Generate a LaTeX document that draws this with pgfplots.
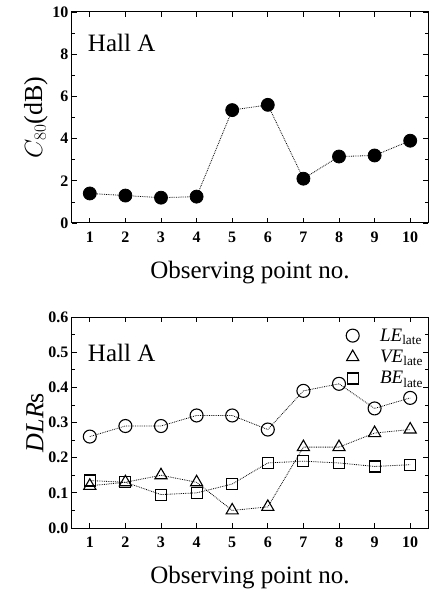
\documentclass[border=0pt]{standalone}
\usepackage{pgfplots}
\pgfplotsset{compat=1.18}
\usepackage{fontspec}
\setmainfont{Liberation Serif}
\begin{document}
\begin{tikzpicture}[x=1pt,y=1pt]
\pgfplotsset{
  every axis/.append style={
    scale only axis, width=356pt, height=211pt,
    xmin=0.5, xmax=10.5, xtick={1,...,10},
    axis line style={line width=1pt},
    major tick length=5pt, minor tick length=3pt,
    every tick/.style={black, line width=0.7pt},
    tick label style={font=\fontsize{16}{18}\selectfont\bfseries},
    /pgf/number format/assume math mode=true,
    xticklabel style={yshift=-5pt},
    xlabel={\fontsize{25}{30}\selectfont Observing point no.},
    xlabel style={yshift=-12pt},
    ylabel style={yshift=-2pt},
    clip=false,
  },
}
\begin{axis}[at={(72pt,372pt)}, anchor=south west,
  ymin=0, ymax=10, ytick={0,2,...,10}, minor y tick num=1,
  ylabel={\fontsize{26}{30}\selectfont $C_{80}$(dB)},
]
\addplot[black, densely dotted, line width=0.8pt, mark=*, mark size=6.5pt, mark options={solid, fill=black}]
 coordinates {(1,1.4) (2,1.3) (3,1.2) (4,1.25) (5,5.35) (6,5.6) (7,2.1) (8,3.15) (9,3.2) (10,3.9)};
\node[anchor=west, font=\fontsize{25}{30}\selectfont] at (rel axis cs:0.035,0.853) {Hall A};
\end{axis}
\begin{axis}[at={(72pt,67pt)}, anchor=south west,
  ymin=0, ymax=0.6, ytick={0,0.1,...,0.6}, minor y tick num=1,
  yticklabel style={/pgf/number format/.cd, fixed, fixed zerofill, precision=1},
  ylabel={\fontsize{26}{30}\selectfont \textit{DLR}s},
  legend style={at={(rel axis cs:0.995,0.96)}, anchor=north east, draw=none, fill=none,
    font=\fontsize{19}{22}\selectfont, row sep=3.5pt, inner sep=1pt,
    legend cell align=left},
  legend image code/.code={\path (-7pt,0) (25pt,0); \draw[#1, only marks] plot coordinates {(0pt,0pt)};},
]
\addplot[black, densely dotted, line width=0.8pt, mark=o, mark size=6.5pt, mark options={solid, line width=1.1pt}]
 coordinates {(1,0.26) (2,0.29) (3,0.29) (4,0.32) (5,0.32) (6,0.28) (7,0.39) (8,0.41) (9,0.34) (10,0.37)};
\addlegendentry{\textit{LE}$_{\mathrm{late}}$}
\addplot[black, densely dotted, line width=0.8pt, mark=triangle, mark size=7pt, mark options={solid, line width=1.1pt}]
 coordinates {(1,0.12) (2,0.13) (3,0.15) (4,0.13) (5,0.05) (6,0.06) (7,0.23) (8,0.23) (9,0.27) (10,0.28)};
\addlegendentry{\textit{VE}$_{\mathrm{late}}$}
\addplot[black, densely dotted, line width=0.8pt, mark=square, mark size=5.5pt, mark options={solid, line width=1.1pt}]
 coordinates {(1,0.135) (2,0.13) (3,0.095) (4,0.10) (5,0.125) (6,0.185) (7,0.19) (8,0.185) (9,0.175) (10,0.18)};
\addlegendentry{\textit{BE}$_{\mathrm{late}}$}
\node[anchor=west, font=\fontsize{25}{30}\selectfont] at (rel axis cs:0.035,0.83) {Hall A};
\end{axis}
\pgfresetboundingbox
\path[use as bounding box] (0,0) rectangle (430pt,595pt);
\end{tikzpicture}
\end{document}
